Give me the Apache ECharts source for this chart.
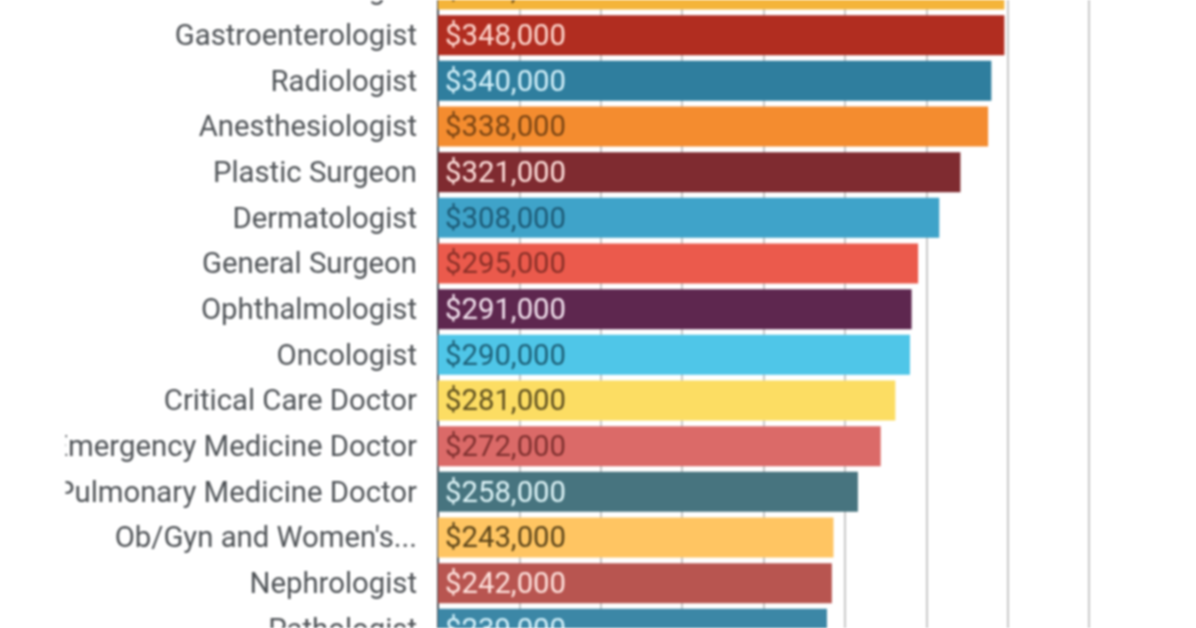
<!DOCTYPE html>
<html>
<head>
<meta charset="utf-8">
<script src="https://cdn.jsdelivr.net/npm/echarts@6/dist/echarts.min.js"></script>
<style>
  html, body { margin: 0; padding: 0; background: #fff; overflow: hidden; }
  #chart { width: 1196px; height: 628px; filter: blur(0.9px); }
</style>
</head>
<body>
<div id="chart"></div>
<script>
// specialty names, top row and bottom row are cut by the picture edge
var specialties = ['Urologist', 'Gastroenterologist', 'Radiologist', 'Anesthesiologist', 'Plastic Surgeon',
  'Dermatologist', 'General Surgeon', 'Ophthalmologist', 'Oncologist', 'Critical Care Doctor',
  'Emergency Medicine Doctor', 'Pulmonary Medicine Doctor', "Ob/Gyn and Women's...", 'Nephrologist', 'Pathologist'];
var salaries = [348000, 348000, 340000, 338000, 321000, 308000, 295000, 291000, 290000, 281000,
  272000, 258000, 243000, 242000, 239000];
var barColors = ['#F4B43A', '#B12D20', '#2F7E9E', '#F48C2F', '#7F2B30', '#3FA3C9', '#EB5A4C', '#5E274F',
  '#4FC6E8', '#FCDD63', '#DB6A68', '#47747F', '#FFC562', '#B85550', '#3C87A6'];
var labelColors = ['#6b4a12', '#ffd9d0', '#d5f2fb', '#7a4514', '#ffe0dc', '#1d5a76', '#8a3028', '#f4e4f0',
  '#1d6078', '#5e5020', '#7f3130', '#dff5f8', '#5c451a', '#ffe3de', '#d5f2fb'];

var chart = echarts.init(document.getElementById('chart'));

chart.setOption({
  animation: false,
  backgroundColor: '#fff',
  grid: { left: 438, right: 107, top: -33.3, bottom: -23.7, outerBoundsMode: 'none' },
  xAxis: {
    type: 'value',
    min: 0,
    max: 400000,
    interval: 50000,
    axisLabel: { show: false },
    axisLine: { show: false },
    axisTick: { show: false },
    splitLine: { show: true, lineStyle: { color: '#c9c9c9', width: 2 } }
  },
  yAxis: {
    type: 'category',
    inverse: true,
    data: specialties,
    axisLine: { show: true, lineStyle: { color: '#4a4f55', width: 2 } },
    axisTick: { show: false },
    axisLabel: {
      margin: 21,
      formatter: '{name|{value}}',
      rich: {
        name: {
          color: '#4f5357',
          fontFamily: 'Roboto',
          fontSize: 29.3,
          padding: [5, 0, 0, 0]
        }
      }
    }
  },
  series: [{
    type: 'bar',
    barWidth: 40,
    data: salaries.map(function (v, i) {
      return {
        value: v,
        itemStyle: { color: barColors[i] },
        label: { color: labelColors[i] }
      };
    }),
    label: {
      show: true,
      position: 'insideLeft',
      distance: 7,
      offset: [0, 2.5],
      fontFamily: 'Roboto',
      fontSize: 29.3,
      formatter: function (p) {
        return '$' + p.value.toLocaleString('en-US');
      }
    }
  }],
  // long labels are cut at the left in the original
  graphic: [{
    type: 'rect',
    left: 0,
    top: 0,
    z: 100,
    shape: { width: 65.5, height: 628 },
    style: { fill: '#fff' }
  }]
});
</script>
</body>
</html>
